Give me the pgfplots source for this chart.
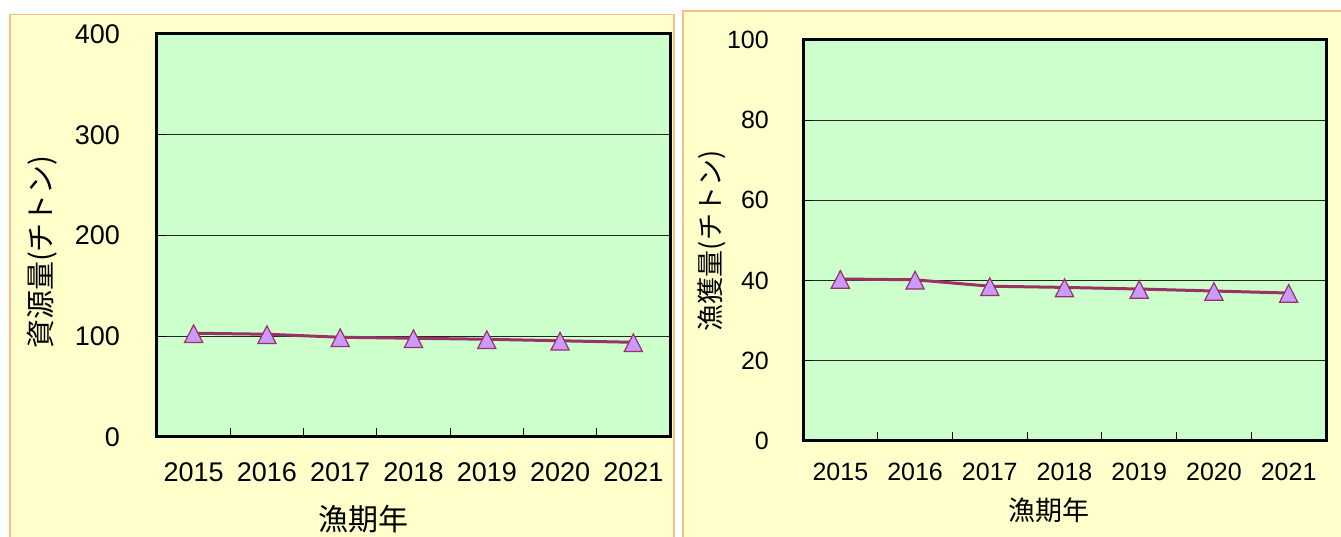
\documentclass[border=0pt]{standalone}
\usepackage{pgfplots}
\pgfplotsset{compat=1.18}
\usepackage{fontspec}
\setmainfont{Liberation Sans}
\newfontfamily\jp{Noto Sans CJK JP}
\definecolor{panelfill}{RGB}{255,255,204}
\definecolor{panelborder}{RGB}{250,190,140}
\definecolor{plotfill}{RGB}{204,255,204}
\definecolor{linecol}{RGB}{153,51,102}
\definecolor{markfill}{RGB}{204,153,255}
\pgfplotsset{
  mystyle/.style={
    scale only axis,
    axis background/.style={fill=plotfill},
    axis line style={line width=3pt, black},
    xmin=-0.5, xmax=6.5, ymin=0,
    xtick={0.5,1.5,...,5.5},
    xticklabels={},
    extra x ticks={0,1,2,3,4,5,6},
    extra x tick labels={2015,2016,2017,2018,2019,2020,2021},
    extra x tick style={major tick length=0pt, grid=none},
    tick align=inside,
    tick pos=left,
    major tick length=9pt,
    every tick/.style={black, line width=1.2pt},
    ymajorgrids,
    major grid style={black!85, line width=0.9pt},
    /pgf/number format/assume math mode=true,
    clip=false,
  },
  myplot/.style={
    color=linecol, line width=3pt, mark=triangle*, mark size=10.5pt,
    mark options={fill=markfill, draw=linecol, line width=1.2pt, yscale=1.12, yshift=-3pt}
  }
}
\begin{document}
\begin{tikzpicture}
\useasboundingbox (0,0) rectangle (1341pt,537pt);
\path[fill=panelfill, draw=panelborder, line width=1.5pt] (10pt,-10pt) rectangle (674pt,522.5pt);
\path[fill=panelfill, draw=panelborder, line width=1.5pt] (683pt,-10pt) rectangle (1360pt,526pt);

\begin{axis}[mystyle,
  at={(157pt,100pt)}, anchor=south west,
  width=513pt, height=403pt,
  ymax=400, ytick={0,100,200,300,400},
  yticklabel style={font=\fontsize{27}{30}\selectfont, inner sep=0pt, anchor=east, xshift=-37pt},
  xticklabel style={font=\fontsize{27}{30}\selectfont, inner sep=0pt, anchor=north, yshift=-25pt},
  ylabel={\jp 資源量(チトン)},
  ylabel style={font=\fontsize{29}{32}\selectfont, at={(axis description cs:-0.224,0.459)}, anchor=center},
  xlabel={\jp 漁期年},
  xlabel style={font=\fontsize{30}{33}\selectfont, at={(axis description cs:0.4025,-0.2035)}, anchor=center},
]
\addplot[myplot] coordinates {(0,103) (1,102) (2,99) (3,98) (4,97) (5,95.5) (6,94)};
\end{axis}

\begin{axis}[mystyle,
  at={(803pt,96pt)}, anchor=south west,
  width=523pt, height=401pt,
  ymax=100, ytick={0,20,40,60,80,100},
  yticklabel style={font=\fontsize{25}{28}\selectfont, inner sep=0pt, anchor=east, xshift=-34pt},
  xticklabel style={font=\fontsize{25}{28}\selectfont, inner sep=0pt, anchor=north, yshift=-22pt},
  ylabel={\jp 漁獲量(チトン)},
  ylabel style={font=\fontsize{27}{30}\selectfont, at={(axis description cs:-0.174,0.4988)}, anchor=center},
  xlabel={\jp 漁期年},
  xlabel style={font=\fontsize{27}{30}\selectfont, at={(axis description cs:0.470,-0.172)}, anchor=center},
]
\addplot[myplot] coordinates {(0,40.4) (1,40.2) (2,38.6) (3,38.3) (4,37.9) (5,37.4) (6,36.9)};
\end{axis}
\end{tikzpicture}
\end{document}
